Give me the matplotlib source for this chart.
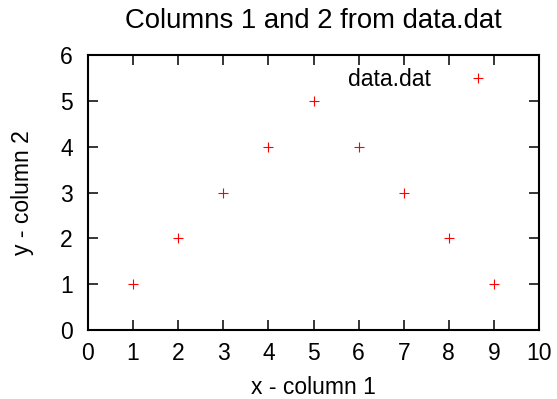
import matplotlib
matplotlib.use("Agg")
import matplotlib.pyplot as plt

x = [1, 2, 3, 4, 5, 6, 7, 8, 9]
y = [1, 2, 3, 4, 5, 4, 3, 2, 1]
x_ticks = list(range(0, 11))
y_ticks = list(range(0, 7))

plt.rcParams['font.family'] = ['Liberation Sans', 'DejaVu Sans']
plt.rcParams['font.size'] = 16.5

W, H = 557, 399
L, R, T, B = 88, 539, 55, 330

fig = plt.figure(figsize=(W / 100, H / 100), dpi=100)
ax = fig.add_axes([L / W, 1 - B / H, (R - L) / W, (B - T) / H])

ax.plot(x, y, linestyle='none', marker='+', color='#ff0000', markersize=7.5,
        markeredgewidth=0.8, label='data.dat')

ax.set_xlim(0, 10)
ax.set_ylim(0, 6)
ax.set_xticks(x_ticks)
ax.set_yticks(y_ticks)
ax.tick_params(direction='in', length=7, width=1.1, top=True, right=True,
               colors='black')
ax.tick_params(axis='x', pad=9)
ax.tick_params(axis='y', pad=11)
for s in ax.spines.values():
    s.set_linewidth(1.5)

# label positions in pixels, converted to axes coords
ax.set_xlabel('x - column 1', va='baseline')
ax.xaxis.set_label_coords(0.5, (5 - (H - B)) / (B - T))
ax.set_ylabel('y - column 2', va='center')
ax.yaxis.set_label_coords((22 - L) / (R - L), 0.5)
ax.set_title('Columns 1 and 2 from data.dat', pad=19.5)

ax.legend(loc='upper right', frameon=False, markerfirst=False,
          handlelength=2.0, handletextpad=1.05, borderaxespad=0,
          bbox_to_anchor=((510 - L) / (R - L), 1 - 4 / (B - T)))

fig.savefig('out.png', dpi=100)
